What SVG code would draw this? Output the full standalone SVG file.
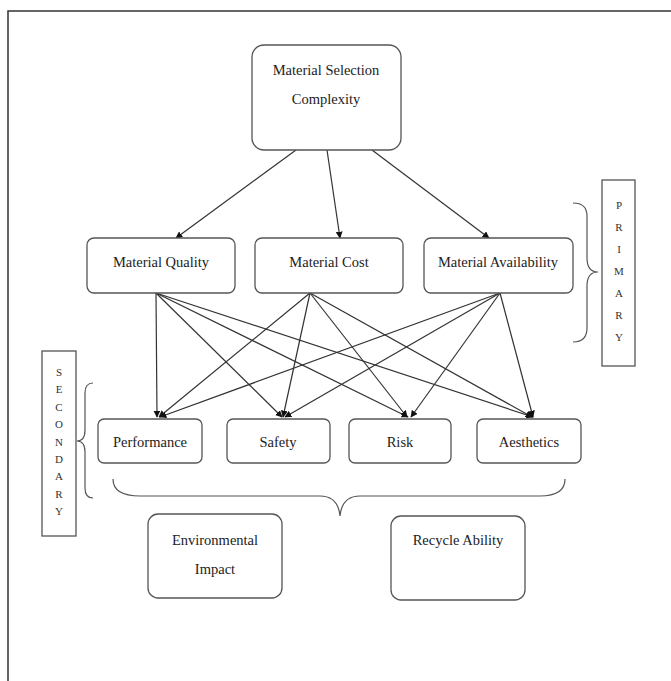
<svg xmlns="http://www.w3.org/2000/svg" width="671" height="681" viewBox="0 0 671 681">
<style>
.box{fill:#fff;stroke:#555;stroke-width:1.3}
.t{font-family:"Liberation Serif","Times New Roman",serif;font-size:14.5px;fill:#222;text-anchor:middle}
.v{font-family:"Liberation Serif","Times New Roman",serif;font-size:11px;fill:#333;text-anchor:middle}
.c line{stroke:#333;stroke-width:1.2;marker-end:url(#ah)}
.br{fill:none;stroke:#555;stroke-width:1.2}
</style>
<defs>
<marker id="ah" viewBox="0 0 10 10" refX="9" refY="5" markerWidth="7" markerHeight="7" orient="auto" markerUnits="userSpaceOnUse">
<path d="M0,0 L10,5 L0,10 z" fill="#111"/>
</marker>
</defs>
<rect width="671" height="681" fill="#fff"/>
<path d="M8,681 V11 H671" fill="none" stroke="#333" stroke-width="1.5"/>

<g class="c" id="connectors">
<line x1="296" y1="150" x2="176" y2="238"/>
<line x1="327" y1="150" x2="340" y2="238"/>
<line x1="372" y1="150" x2="489" y2="238"/>

<line x1="156" y1="293" x2="157" y2="417"/>
<line x1="156" y1="293" x2="282" y2="417"/>
<line x1="156" y1="293" x2="408" y2="417"/>
<line x1="156" y1="293" x2="533" y2="417"/>

<line x1="310" y1="293" x2="159" y2="417"/>
<line x1="310" y1="293" x2="283" y2="417"/>
<line x1="310" y1="293" x2="407" y2="417"/>
<line x1="310" y1="293" x2="532" y2="417"/>

<line x1="500" y1="293" x2="160" y2="417"/>
<line x1="500" y1="293" x2="285" y2="417"/>
<line x1="500" y1="293" x2="411" y2="417"/>
<line x1="500" y1="293" x2="533" y2="417"/>
</g>

<g id="n-top">
<rect class="box" x="252" y="45" width="149" height="105" rx="12"/>
<text class="t" x="326" y="75">Material Selection</text>
<text class="t" x="326" y="104">Complexity</text>
</g>

<g id="n-quality">
<rect class="box" x="87" y="238" width="148" height="55" rx="7"/>
<text class="t" x="161" y="267">Material Quality</text>
</g>
<g id="n-cost">
<rect class="box" x="255" y="238" width="148" height="55" rx="7"/>
<text class="t" x="329" y="267">Material Cost</text>
</g>
<g id="n-avail">
<rect class="box" x="424" y="238" width="149" height="55" rx="7"/>
<text class="t" x="498" y="267">Material Availability</text>
</g>

<g id="n-performance">
<rect class="box" x="98" y="419" width="104" height="44" rx="6"/>
<text class="t" x="150" y="447">Performance</text>
</g>
<g id="n-safety">
<rect class="box" x="227" y="419" width="103" height="44" rx="6"/>
<text class="t" x="278" y="447">Safety</text>
</g>
<g id="n-risk">
<rect class="box" x="349" y="419" width="102" height="44" rx="6"/>
<text class="t" x="400" y="447">Risk</text>
</g>
<g id="n-aesthetics">
<rect class="box" x="477" y="419" width="104" height="44" rx="6"/>
<text class="t" x="529" y="447">Aesthetics</text>
</g>

<g id="n-env">
<rect class="box" x="148" y="514" width="134" height="84" rx="10"/>
<text class="t" x="215" y="545">Environmental</text>
<text class="t" x="215" y="574">Impact</text>
</g>
<g id="n-recycle">
<rect class="box" x="391" y="516" width="134" height="84" rx="10"/>
<text class="t" x="458" y="545">Recycle Ability</text>
</g>

<g id="primary">
<path class="br" d="M573,203 Q587,203 587,216 V258 Q587,272 598,272 Q587,272 587,286 V328 Q587,342 573,342"/>
<rect x="602" y="180" width="33" height="186" fill="#fff" stroke="#555" stroke-width="1.3"/>
<text class="v" x="619" y="209">P</text>
<text class="v" x="619" y="231">R</text>
<text class="v" x="619" y="253">I</text>
<text class="v" x="619" y="275">M</text>
<text class="v" x="619" y="297">A</text>
<text class="v" x="619" y="319">R</text>
<text class="v" x="619" y="341">Y</text>
</g>

<g id="secondary">
<path class="br" d="M93,383 Q85,383 85,393 V430 Q85,441 77,441 Q85,441 85,452 V488 Q85,498 93,498"/>
<rect x="42" y="351" width="34" height="185" fill="#fff" stroke="#555" stroke-width="1.3"/>
<text class="v" x="59" y="376">S</text>
<text class="v" x="59" y="393">E</text>
<text class="v" x="59" y="411">C</text>
<text class="v" x="59" y="428">O</text>
<text class="v" x="59" y="446">N</text>
<text class="v" x="59" y="463">D</text>
<text class="v" x="59" y="480">A</text>
<text class="v" x="59" y="498">R</text>
<text class="v" x="59" y="515">Y</text>
</g>

<path class="br" d="M113,479 Q113,496 140,496 H320 Q338,496 340,516 Q342,496 360,496 H540 Q565,496 565,479"/>
</svg>
